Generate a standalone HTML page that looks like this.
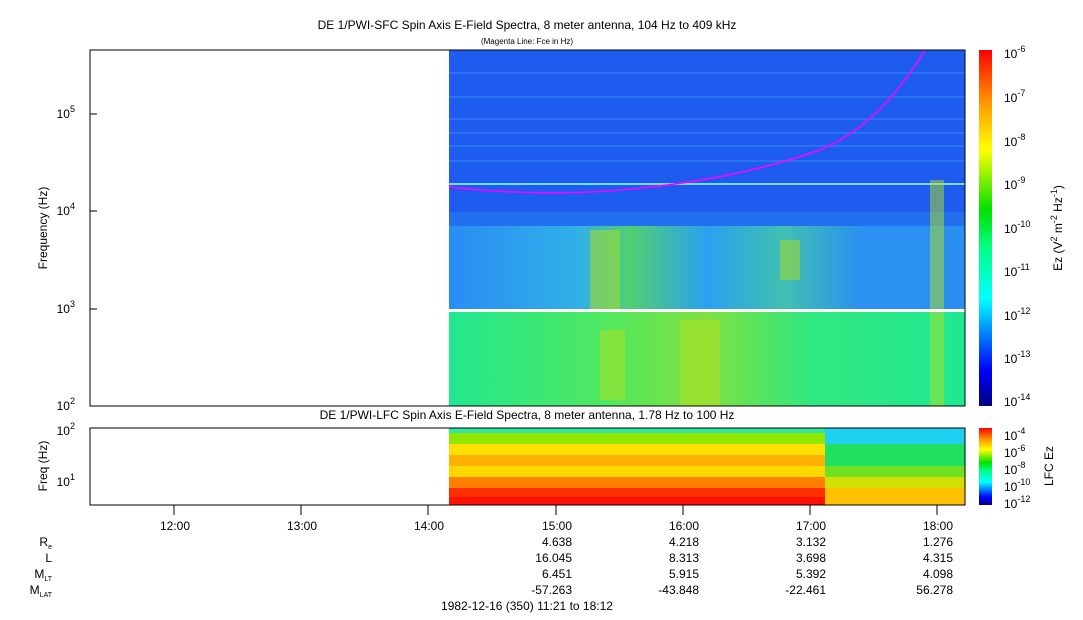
<!DOCTYPE html>
<html><head><style>
body{margin:0;background:#fff;}
svg{display:block;font-family:"Liberation Sans",sans-serif;}
</style></head><body>
<svg width="1083" height="620" viewBox="0 0 1083 620" xmlns="http://www.w3.org/2000/svg">
<defs>
<linearGradient id="cb" x1="0" y1="1" x2="0" y2="0">
<stop offset="0" stop-color="#000080"/><stop offset="0.1" stop-color="#0000ff"/>
<stop offset="0.3" stop-color="#00ffff"/><stop offset="0.45" stop-color="#00ff80"/>
<stop offset="0.55" stop-color="#00e000"/><stop offset="0.72" stop-color="#ffff00"/>
<stop offset="0.85" stop-color="#ff9900"/><stop offset="1" stop-color="#ff0000"/>
</linearGradient>
<linearGradient id="mid" x1="0" y1="0" x2="1" y2="0">
<stop offset="0" stop-color="#2a8cf5"/><stop offset="0.25" stop-color="#30b0e8"/>
<stop offset="0.35" stop-color="#50d070"/><stop offset="0.5" stop-color="#2aa0f0"/>
<stop offset="0.65" stop-color="#40c0b0"/><stop offset="0.8" stop-color="#2a90f2"/><stop offset="1" stop-color="#2a90f0"/>
</linearGradient>
<linearGradient id="low" x1="0" y1="0" x2="1" y2="0">
<stop offset="0" stop-color="#20e890"/><stop offset="0.3" stop-color="#50e860"/>
<stop offset="0.5" stop-color="#80e040"/><stop offset="0.7" stop-color="#30e880"/><stop offset="1" stop-color="#20e890"/>
</linearGradient>
</defs>
<text x="527" y="29" font-size="12" text-anchor="middle">DE 1/PWI-SFC  Spin Axis E-Field Spectra, 8 meter antenna, 104 Hz to 409 kHz</text>
<text x="527" y="44" font-size="8" text-anchor="middle">(Magenta Line: Fce in Hz)</text>
<rect x="449" y="50" width="516" height="162" fill="#1e5cf0"/>
<g fill="#3a8cf8" opacity="0.45">
<rect x="449" y="96" width="516" height="2"/><rect x="449" y="118" width="516" height="2"/>
<rect x="449" y="132" width="516" height="2"/><rect x="449" y="145" width="516" height="2"/>
<rect x="449" y="160" width="516" height="2"/><rect x="449" y="72" width="516" height="2"/>
</g>
<rect x="449" y="183" width="516" height="2" fill="#70e0f0"/>
<rect x="449" y="226" width="516" height="83" fill="url(#mid)"/>
<rect x="449" y="212" width="516" height="14" fill="#2270f0"/>
<rect x="449" y="312" width="516" height="94" fill="url(#low)"/>
<g fill="#b0e020" opacity="0.5">
<rect x="590" y="230" width="30" height="80"/><rect x="680" y="320" width="40" height="86"/>
<rect x="780" y="240" width="20" height="40"/><rect x="930" y="180" width="14" height="226"/>
<rect x="600" y="330" width="25" height="70"/>
</g>
<rect x="449" y="309" width="516" height="3" fill="#fff"/>
<path d="M449,187 Q520,195 590,192 Q720,185 820,150 Q880,125 925,50" fill="none" stroke="#ff00ff" stroke-width="1.5"/>
<rect x="90" y="50" width="875" height="356" fill="none" stroke="#000"/>
<g font-size="12" text-anchor="end">
<text x="75" y="410">10<tspan font-size="9" dy="-6">2</tspan></text>
<text x="75" y="313">10<tspan font-size="9" dy="-6">3</tspan></text>
<text x="75" y="215">10<tspan font-size="9" dy="-6">4</tspan></text>
<text x="75" y="118">10<tspan font-size="9" dy="-6">5</tspan></text>
</g>
<g stroke="#000"><line x1="90" y1="309" x2="97" y2="309"/><line x1="90" y1="211" x2="97" y2="211"/><line x1="90" y1="114" x2="97" y2="114"/></g>
<text transform="translate(47,228) rotate(-90)" font-size="12" text-anchor="middle">Frequency (Hz)</text>
<rect x="979" y="50" width="13" height="356" fill="url(#cb)"/>
<g font-size="12">
<text x="1004" y="58">10<tspan font-size="9" dy="-6">-6</tspan></text>
<text x="1004" y="102">10<tspan font-size="9" dy="-6">-7</tspan></text>
<text x="1004" y="146">10<tspan font-size="9" dy="-6">-8</tspan></text>
<text x="1004" y="189">10<tspan font-size="9" dy="-6">-9</tspan></text>
<text x="1004" y="233">10<tspan font-size="9" dy="-6">-10</tspan></text>
<text x="1004" y="276">10<tspan font-size="9" dy="-6">-11</tspan></text>
<text x="1004" y="320">10<tspan font-size="9" dy="-6">-12</tspan></text>
<text x="1004" y="363">10<tspan font-size="9" dy="-6">-13</tspan></text>
<text x="1004" y="406">10<tspan font-size="9" dy="-6">-14</tspan></text>
</g>
<text transform="translate(1062,228) rotate(-90)" font-size="12" text-anchor="middle">Ez (V<tspan font-size="9" dy="-5">2</tspan><tspan dy="5"> m</tspan><tspan font-size="9" dy="-5">-2</tspan><tspan dy="5"> Hz</tspan><tspan font-size="9" dy="-5">-1</tspan><tspan dy="5">)</tspan></text>
<text x="527" y="419" font-size="12" text-anchor="middle">DE 1/PWI-LFC  Spin Axis E-Field Spectra, 8 meter antenna, 1.78 Hz to 100 Hz</text>
<rect x="449" y="428" width="376" height="5" fill="#30e8a0"/>
<rect x="449" y="433" width="376" height="11" fill="#90e800"/>
<rect x="449" y="444" width="376" height="11" fill="#ffe000"/>
<rect x="449" y="455" width="376" height="11" fill="#ffb000"/>
<rect x="449" y="466" width="376" height="11" fill="#ffd800"/>
<rect x="449" y="477" width="376" height="11" fill="#ff8000"/>
<rect x="449" y="488" width="376" height="9" fill="#ff3000"/>
<rect x="449" y="497" width="376" height="8" fill="#ff1000"/>
<rect x="825" y="428" width="140" height="16" fill="#20d0f0"/>
<rect x="825" y="444" width="140" height="22" fill="#20e060"/>
<rect x="825" y="466" width="140" height="11" fill="#70e020"/>
<rect x="825" y="477" width="140" height="11" fill="#d0e000"/>
<rect x="825" y="488" width="140" height="17" fill="#ffc000"/>
<rect x="90" y="428" width="875" height="77" fill="none" stroke="#000"/>
<g font-size="12" text-anchor="end">
<text x="75" y="435">10<tspan font-size="9" dy="-6">2</tspan></text>
<text x="75" y="486">10<tspan font-size="9" dy="-6">1</tspan></text>
</g>
<text transform="translate(47,466) rotate(-90)" font-size="12" text-anchor="middle">Freq (Hz)</text>
<rect x="979" y="428" width="13" height="77" fill="url(#cb)"/>
<g font-size="12">
<text x="1004" y="440">10<tspan font-size="9" dy="-6">-4</tspan></text>
<text x="1004" y="457">10<tspan font-size="9" dy="-6">-6</tspan></text>
<text x="1004" y="474">10<tspan font-size="9" dy="-6">-8</tspan></text>
<text x="1004" y="491">10<tspan font-size="9" dy="-6">-10</tspan></text>
<text x="1004" y="508">10<tspan font-size="9" dy="-6">-12</tspan></text>
</g>
<text transform="translate(1053,466) rotate(-90)" font-size="12" text-anchor="middle">LFC Ez</text>
<g stroke="#000">
<line x1="174" y1="505" x2="174" y2="515"/><line x1="301" y1="505" x2="301" y2="515"/>
<line x1="428" y1="505" x2="428" y2="515"/><line x1="556" y1="505" x2="556" y2="515"/>
<line x1="683" y1="505" x2="683" y2="515"/><line x1="810" y1="505" x2="810" y2="515"/>
<line x1="937" y1="505" x2="937" y2="515"/>
</g>
<g font-size="12" text-anchor="end">
<text x="190" y="530">12:00</text><text x="317" y="530">13:00</text><text x="444" y="530">14:00</text>
<text x="572" y="530">15:00</text><text x="699" y="530">16:00</text><text x="826" y="530">17:00</text><text x="953" y="530">18:00</text>
<text x="572" y="546">4.638</text><text x="699" y="546">4.218</text><text x="826" y="546">3.132</text><text x="953" y="546">1.276</text>
<text x="572" y="562">16.045</text><text x="699" y="562">8.313</text><text x="826" y="562">3.698</text><text x="953" y="562">4.315</text>
<text x="572" y="578">6.451</text><text x="699" y="578">5.915</text><text x="826" y="578">5.392</text><text x="953" y="578">4.098</text>
<text x="572" y="594">-57.263</text><text x="699" y="594">-43.848</text><text x="826" y="594">-22.461</text><text x="953" y="594">56.278</text>
<text x="52" y="546">R<tspan font-size="7" dy="3">e</tspan></text>
<text x="52" y="562">L</text>
<text x="52" y="578">M<tspan font-size="7" dy="3">LT</tspan></text>
<text x="52" y="594">M<tspan font-size="7" dy="3">LAT</tspan></text>
</g>
<text x="527" y="610" font-size="12" text-anchor="middle">1982-12-16 (350) 11:21 to 18:12</text>
</svg>
</body></html>
